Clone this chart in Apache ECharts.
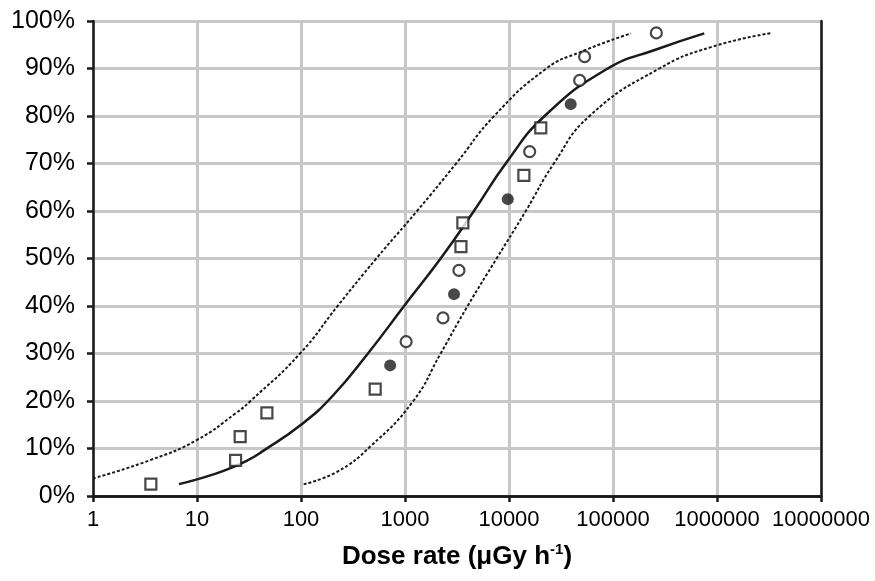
<!DOCTYPE html>
<html>
<head>
<meta charset="utf-8">
<script src="https://cdn.jsdelivr.net/npm/echarts@6/dist/echarts.min.js"></script>
<style>
  html, body { margin: 0; padding: 0; background: #fff; }
  #main { width: 875px; height: 581px; }
</style>
</head>
<body>
<div id="main"></div>
<script>
// observed points, [dose rate, cumulative %]
var openSquares = [[3.6, 2.5], [23.5, 7.5], [26, 12.5], [47, 17.5], [517, 22.5],
  [3450, 52.5], [3600, 57.5], [13900, 67.5], [20200, 77.5]];
var openCircles = [[1025, 32.5], [2320, 37.5], [3300, 47.5], [15800, 72.5],
  [47800, 87.5], [53300, 92.5], [261000, 97.5]];
var filledCircles = [[720, 27.5], [2960, 42.5], [9740, 62.5], [39200, 82.5]];

// fitted curve and its bounds
var fitLine = [[6.7, 2.5], [10, 3.5], [18, 5.3], [30, 7.4], [44, 9.6], [100, 15],
  [200, 21], [440, 30], [980, 40], [2200, 50], [4600, 60], [9300, 70], [22000, 80],
  [89000, 90], [260000, 94], [754000, 97.4]];
var upperBound = [[1, 3.7], [3.6, 7.6], [10, 11.8], [23.5, 17.4], [32.7, 20], [98, 30],
  [225, 40], [530, 50], [1306, 60], [3100, 70], [7200, 80], [22900, 90],
  [47700, 93.4], [149000, 97.4]];
var lowerBound = [[106, 2.5], [222, 5.1], [463, 10.4], [1200, 20], [2200, 30],
  [4000, 40], [7600, 50], [14500, 60], [27000, 70], [59500, 80], [279000, 90],
  [906000, 94.6], [3400000, 97.5]];

var chart = echarts.init(document.getElementById('main'));

var labelFont = { fontFamily: 'Liberation Sans', color: '#000' };
var ink = '#1a1a1a';

var dotted = { color: ink, width: 2, type: [3, 2] };

var option = {
  animation: false,
  grid: { left: 93, right: 54, top: 21, bottom: 85 },
  xAxis: [{
    type: 'log',
    logBase: 10,
    min: 1,
    max: 10000000,
    name: '{a|Dose rate (\u03bcGy h}{b|-1}{a|)}',
    nameLocation: 'middle',
    nameGap: 46,
    nameTextStyle: {
      rich: {
        a: { fontFamily: 'Liberation Sans', fontWeight: 'bold', fontSize: 26, color: '#000' },
        b: { fontFamily: 'Liberation Sans', fontWeight: 'bold', fontSize: 15, color: '#000', verticalAlign: 'top', padding: [0, 0, 14, 0] }
      }
    },
    axisLine: { lineStyle: { color: ink, width: 2.5 } },
    axisTick: { length: 6, lineStyle: { color: ink, width: 2.5 } },
    minorTick: { show: false },
    axisLabel: Object.assign({ fontSize: 22, margin: 13, formatter: function (v) { return String(Math.round(v)); } }, labelFont),
    splitLine: { lineStyle: { color: '#c8c8c8', width: 3 } }
  }, {
    type: 'log',
    logBase: 10,
    min: 1,
    max: 10000000,
    position: 'top',
    axisLine: { lineStyle: { color: ink, width: 2.5 } },
    axisTick: { show: false },
    axisLabel: { show: false },
    splitLine: { show: false }
  }],
  yAxis: [{
    type: 'value',
    min: 0,
    max: 100,
    interval: 10,
    axisLine: { show: true, lineStyle: { color: ink, width: 2.5 } },
    axisTick: { show: true, length: 6, lineStyle: { color: ink, width: 2.5 } },
    axisLabel: Object.assign({ fontSize: 25, margin: 18, formatter: '{value}%' }, labelFont),
    splitLine: { lineStyle: { color: '#c8c8c8', width: 3 } }
  }, {
    type: 'value',
    min: 0,
    max: 100,
    position: 'right',
    axisLine: { show: true, lineStyle: { color: ink, width: 2.5 } },
    axisTick: { show: false },
    axisLabel: { show: false },
    splitLine: { show: false }
  }],
  series: [
    { name: 'upper', type: 'line', data: upperBound, smooth: 0.5, showSymbol: false, lineStyle: dotted, z: 3 },
    { name: 'fit', type: 'line', data: fitLine, smooth: 0.5, showSymbol: false, lineStyle: { color: ink, width: 2.5 }, z: 3 },
    { name: 'lower', type: 'line', data: lowerBound, smooth: 0.5, showSymbol: false, lineStyle: dotted, z: 3 },
    { name: 'squares', type: 'scatter', data: openSquares, symbol: 'rect', symbolSize: 11,
      itemStyle: { color: '#fff', borderColor: ink, borderWidth: 2.2 }, z: 5 },
    { name: 'circles', type: 'scatter', data: openCircles, symbol: 'circle', symbolSize: 11,
      itemStyle: { color: '#fff', borderColor: ink, borderWidth: 2.2 }, z: 5 },
    { name: 'filled', type: 'scatter', data: filledCircles, symbol: 'circle', symbolSize: 12,
      itemStyle: { color: ink }, z: 5 }
  ]
};

chart.setOption(option);
</script>
</body>
</html>
